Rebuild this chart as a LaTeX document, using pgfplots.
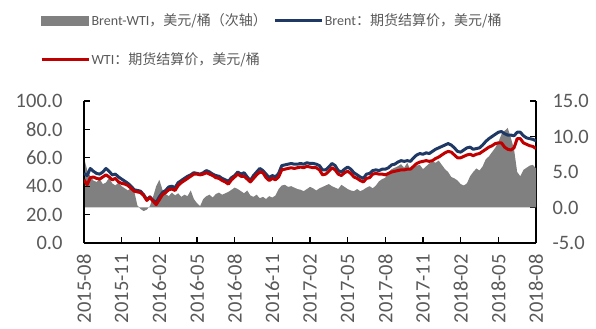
\documentclass[border=0pt]{standalone}
\usepackage{pgfplots}
\pgfplotsset{compat=1.18}
\usepackage{pgfplotstable}
\usepackage{fontspec}
\setmainfont{Carlito}
\newfontfamily\cjk{Noto Sans CJK SC}
\definecolor{brentblue}{HTML}{1F3864}
\definecolor{wtired}{HTML}{C00000}
\definecolor{spreadgray}{HTML}{808080}
\definecolor{txtgray}{HTML}{595959}

\pgfplotstableread{
m B W S
0.00 49.0 44.5 7.0
0.25 47.5 41.0 5.3
0.50 52.5 46.0 4.4
0.75 50.5 46.5 3.8
1.00 49.0 45.5 3.6
1.25 48.5 45.0 4.0
1.50 50.0 46.5 3.3
1.75 52.5 48.0 3.5
2.00 50.5 46.5 4.2
2.25 48.0 44.5 3.4
2.50 48.5 45.5 3.1
2.75 46.5 43.0 3.5
3.00 45.0 42.0 3.0
3.25 43.5 41.5 2.7
3.50 42.0 40.5 2.4
3.75 40.0 38.5 2.8
4.00 37.5 36.5 2.3
4.25 37.0 36.0 0.3
4.50 36.5 35.5 -0.2
4.75 34.0 33.5 -0.5
5.00 30.5 30.0 -0.3
5.25 32.5 32.0 0.2
5.50 30.0 29.5 1.5
5.75 28.5 27.0 3.0
6.00 32.5 30.5 3.9
6.25 35.5 34.0 2.5
6.50 37.0 35.5 1.9
6.75 39.5 37.5 1.6
7.00 40.0 38.0 2.1
7.25 39.0 37.0 1.7
7.50 42.5 40.5 2.0
7.75 44.0 42.5 1.5
8.00 45.5 44.0 1.8
8.25 47.0 45.5 1.6
8.50 48.0 47.0 2.4
8.75 49.5 48.5 1.2
9.00 49.0 48.5 0.6
9.25 48.5 48.0 0.2
9.50 49.5 48.5 1.2
9.75 51.0 49.5 1.6
10.00 50.0 48.5 1.8
10.25 48.5 47.5 1.4
10.50 47.5 46.0 1.9
10.75 47.0 45.5 2.1
11.00 45.5 44.0 1.8
11.25 44.5 43.0 2.0
11.50 43.5 41.5 2.2
11.75 46.0 44.5 2.5
12.00 47.5 46.5 2.8
12.25 50.0 48.5 2.6
12.50 48.5 47.0 2.3
12.75 49.5 47.0 2.0
13.00 46.5 45.0 2.4
13.25 44.0 43.0 1.7
13.50 47.5 45.5 1.5
13.75 50.0 48.0 1.8
14.00 52.5 50.0 1.3
14.25 51.0 49.5 1.5
14.50 48.5 46.0 1.2
14.75 46.0 44.0 1.6
15.00 47.5 45.5 1.4
15.25 46.5 44.5 1.7
15.50 49.0 46.5 2.6
15.75 54.5 51.5 3.1
16.00 55.0 52.0 3.2
16.25 55.5 52.5 2.9
16.50 56.0 53.0 3.0
16.75 55.5 52.5 2.8
17.00 55.5 53.0 2.6
17.25 56.0 53.5 2.5
17.50 55.5 53.0 2.3
17.75 56.5 54.0 2.6
18.00 56.0 53.5 2.9
18.25 56.0 53.0 2.7
18.50 55.5 53.0 2.4
18.75 54.5 51.5 2.7
19.00 51.5 48.0 2.9
19.25 51.5 48.5 3.1
19.50 53.5 50.5 3.3
19.75 56.0 53.0 3.0
20.00 54.5 51.5 2.8
20.25 51.0 48.5 2.6
20.50 50.0 47.5 3.2
20.75 52.0 49.5 2.9
21.00 53.5 50.5 2.6
21.25 52.0 49.0 2.4
21.50 49.5 46.5 2.3
21.75 48.0 45.5 2.6
22.00 46.5 44.0 2.3
22.25 45.5 43.0 2.5
22.50 48.5 45.5 2.8
22.75 49.0 46.0 3.0
23.00 51.0 48.5 2.7
23.25 51.5 49.0 3.1
23.50 51.0 48.5 3.7
23.75 52.0 48.5 4.0
24.00 52.0 48.0 4.2
24.25 53.0 49.0 5.0
24.50 55.0 50.0 5.4
24.75 55.5 50.5 5.6
25.00 57.0 51.0 5.8
25.25 58.0 51.5 6.1
25.50 57.5 51.5 5.6
25.75 58.0 52.0 6.3
26.00 57.5 52.0 5.2
26.25 60.0 54.0 5.6
26.50 62.0 56.0 5.9
26.75 63.0 57.0 6.0
27.00 62.5 57.5 5.4
27.25 63.5 58.0 5.8
27.50 63.0 57.5 6.2
27.75 64.5 58.0 6.5
28.00 66.0 59.5 6.3
28.25 67.0 60.5 6.6
28.50 68.0 62.0 6.0
28.75 69.0 63.5 5.4
29.00 70.0 64.5 5.0
29.25 69.0 64.0 4.3
29.50 67.0 62.0 4.1
29.75 64.5 60.0 3.8
30.00 64.0 60.0 3.3
30.25 65.5 61.0 3.1
30.50 67.0 62.0 3.4
30.75 67.5 62.5 4.4
31.00 66.0 61.5 5.0
31.25 66.5 62.5 5.5
31.50 67.0 63.0 5.2
31.75 69.0 64.5 5.8
32.00 71.5 66.0 6.8
32.25 73.5 67.5 7.2
32.50 75.0 68.5 7.8
32.75 76.5 70.0 8.4
33.00 78.0 70.5 9.2
33.25 78.5 70.5 10.3
33.50 77.0 67.5 10.8
33.75 76.0 66.0 11.2
34.00 76.0 65.5 9.8
34.25 75.5 67.0 8.2
34.50 78.0 73.5 5.0
34.75 78.0 73.5 4.4
35.00 75.5 70.5 5.3
35.25 74.0 69.5 5.6
35.50 73.5 68.5 5.9
35.75 73.0 68.0 6.0
36.00 72.0 66.5 5.5
}\oil

\pgfplotsset{
  common/.style={
    scale only axis, width=452bp, height=142bp,
    xmin=0, xmax=36,
    axis line style={black, line width=1.3bp, -},
    tick align=inside,
    major tick length=6bp,
    tick style={black, line width=1.3bp},
    tick label style={font=\fontsize{20.5bp}{22bp}\selectfont, text=txtgray},
  }
}

\begin{document}
\begin{tikzpicture}
\path[use as bounding box] (-84bp,-86bp) rectangle (512bp,243bp);
\begin{axis}[common,
  axis x line=none, axis y line*=right,
  ymin=-5, ymax=15,
  ytick={-5,0,5,10,15},
  yticklabels={-5.0,0.0,5.0,10.0,15.0},
  yticklabel style={xshift=13bp},
]
\addplot[fill=spreadgray, draw=none] table[x=m,y=S]{\oil} \closedcycle;
\end{axis}
\begin{axis}[common,
  axis x line*=bottom, axis y line*=left,
  ymin=0, ymax=100,
  ytick={0,20,40,60,80,100},
  yticklabels={0.0,20.0,40.0,60.0,80.0,100.0},
  yticklabel style={xshift=-18bp},
  xtick={0,3,...,36},
  xticklabels={2015-08,2015-11,2016-02,2016-05,2016-08,2016-11,2017-02,2017-05,2017-08,2017-11,2018-02,2018-05,2018-08},
  xticklabel style={rotate=90, anchor=east, yshift=0bp, xshift=-8bp},
  legend columns=2,
  legend cell align=left,
  legend style={at={(axis description cs:-0.0973,1.627)}, anchor=north west,
    draw=none, fill=none, inner sep=0pt, outer sep=0pt,
    font=\fontsize{14bp}{16bp}\selectfont, text=txtgray,
    row sep=23bp,
    nodes={inner sep=1.5bp},
    /tikz/every even column/.append style={column sep=5bp}},
]
\addlegendimage{legend image code/.code={\fill[spreadgray] (0bp,-4.5bp) rectangle (47bp,4.5bp);}}
\addlegendentry{Brent-WTI{\cjk ，美元/桶（次轴）}}
\addplot[brentblue, line width=3bp, line join=round,
  legend image code/.code={\draw[brentblue, line width=3bp] (0bp,0bp) -- (47bp,0bp);}]
  table[x=m,y=B]{\oil};
\addlegendentry{Brent{\cjk ：期货结算价，美元/桶}}
\addplot[wtired, line width=3bp, line join=round,
  legend image code/.code={\draw[wtired, line width=3bp] (0bp,0bp) -- (47bp,0bp);}]
  table[x=m,y=W]{\oil};
\addlegendentry{WTI{\cjk ：期货结算价，美元/桶}}
\end{axis}
\end{tikzpicture}
\end{document}
